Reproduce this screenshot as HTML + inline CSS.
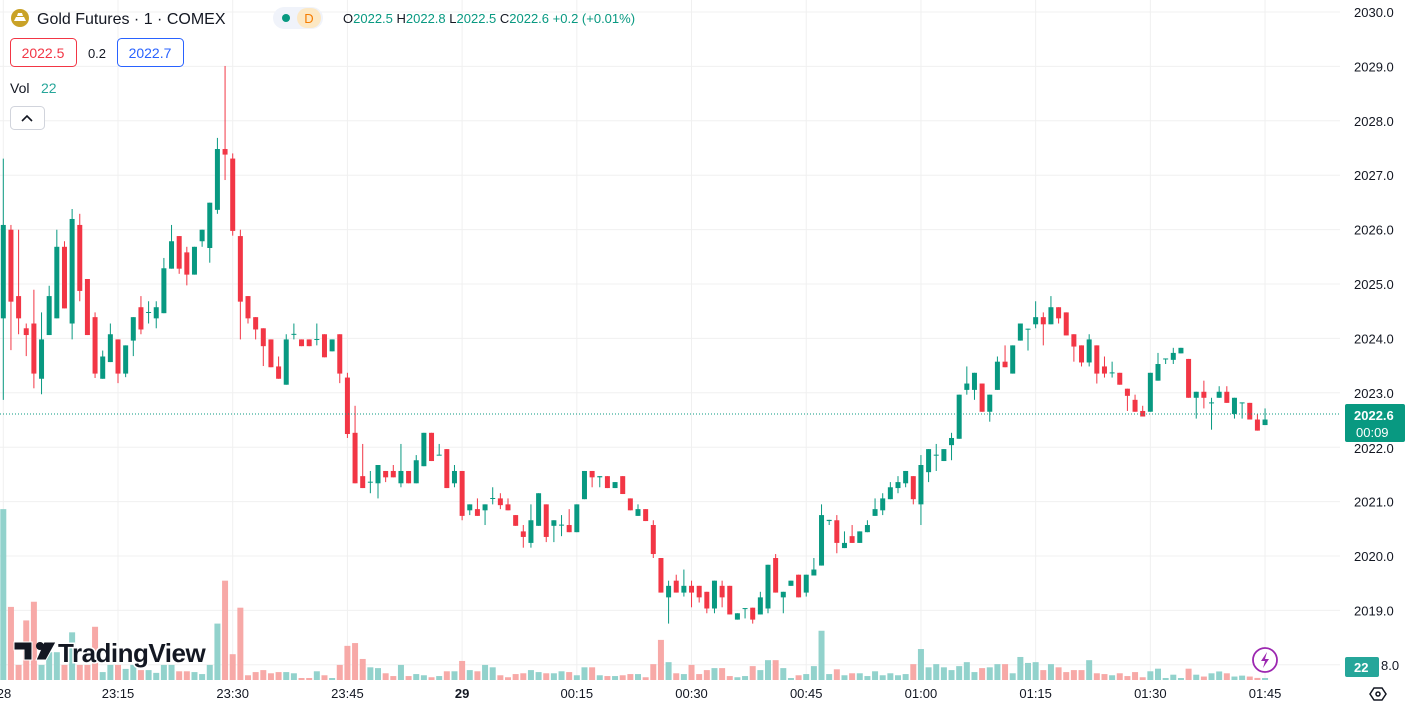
<!DOCTYPE html>
<html><head><meta charset="utf-8"><style>
body{margin:0;width:1408px;height:717px;overflow:hidden;background:#fff;font-family:"Liberation Sans",sans-serif;}
svg{position:absolute;left:0;top:0}
.t{font-family:"Liberation Sans",sans-serif}
</style></head><body>
<svg id="s" width="1408" height="717" xmlns="http://www.w3.org/2000/svg"></svg>
<script>
const S=document.getElementById('s');const NS='http://www.w3.org/2000/svg';
function el(n,a,t){const e=document.createElementNS(NS,n);for(const k in a)e.setAttribute(k,a[k]);if(t!==undefined)e.textContent=t;S.appendChild(e);return e;}
const G='#089981',R='#f23645',GV='#92d2cc',RV='#f7a9a7';
const DX=7.647;
// grid
for(let p=2018;p<=2030;p++){const y=12+(2030-p)*54.4;el('line',{x1:0,x2:1340,y1:y,y2:y,stroke:'#f0f0f0','stroke-width':1});}
const tx=[];for(let k=0;k<12;k++)tx.push(3.3+DX*15*k);
tx.forEach(x=>el('line',{x1:x,x2:x,y1:0,y2:680,stroke:'#f0f0f0','stroke-width':1}));
const A=[[415,650,248,855,1],[427,608,415,730,0],[594,650,427,690,0],[675,692,663,745,0],[663,789,578,826,0],[703,802,635,841,1],[594,692,568,692,1],[470,650,427,650,1],[470,625,456,625,0],[400,663,375,703,1],[415,581,387,607,0],[551,692,551,692,0],[647,789,635,800,0],[746,802,731,802,1],[690,760,663,760,1],[703,789,703,813,0],[718,789,718,798,1],[647,706,647,745,1],[622,678,594,690,0],[634,636,607,663,1],[622,650,607,675,1],[524,637,498,637,1],[456,525,415,525,1],[443,525,443,538,0],[484,540,470,567,0],[470,540,470,540,1],[427,456,427,470,1],[359,473,359,510,1],[224,377,196,387,1],[224,238,15,302,0],[248,430,235,442,0],
[443,608,427,703,0],[594,650,594,663,0],[647,678,647,703,0],[675,720,675,770,0],[703,773,703,773,0],[771,802,746,802,0],[703,817,690,817,1],[689,691,663,703,1],[703,720,703,720,0],[703,720,703,720,0],[702,704,663,718,1],[690,748,690,748,0],[703,733,703,733,1],[690,789,690,813,0],[799,941,787,951,0],[938,1065,870,1065,0],[1047,1077,966,1077,0],[1061,1063,1034,1090,1],[1019,1065,1019,1103,1],[1034,1050,1034,1062,0],[1034,1050,1019,1050,0],[1034,1065,966,1075,1],[1034,1065,1034,1065,0],[1007,1065,994,1065,1],[938,1022,938,1022,1],[938,1009,938,1009,0],[993,995,966,995,1],[979,1077,979,1077,0],[1034,1065,1019,1075,1],[1034,1147,1034,1158,0],
[1118,1133,1118,1145,1],[1130,1147,1103,1147,0],[1118,1133,1118,1170,1],[1102,1104,1075,1118,1],[1103,1120,1090,1130,0],[1118,1133,1103,1133,0],[1145,1172,1145,1172,0],[1186,1200,1170,1227,0],[1158,1215,1118,1227,1],[1090,1172,1090,1172,1],[1118,1200,1118,1213,0],[1158,1172,1158,1213,1],[1169,1171,1145,1198,1],[1170,1188,1130,1188,0],[1118,1188,1118,1188,1],[1034,1105,1034,1105,1],[1034,1050,1034,1075,0],[1047,1050,1047,1075,1],[1047,1077,1047,1077,0],[1062,1077,1062,1077,1],[1047,1092,1047,1092,0],[1103,1133,1103,1133,0],[1130,1147,1118,1147,1],[1130,1160,1130,1160,0],[1170,1243,1158,1253,0],[1253,1340,1253,1340,0],[1323,1352,1310,1418,1],[1310,1340,1295,1340,0],[1323,1340,1282,1350,1],[1323,1340,1310,1377,0],
[1323,1352,1323,1365,0],[1338,1380,1338,1392,0],[1310,1380,1310,1392,1],[1323,1352,1310,1377,0],[1323,1395,1323,1395,0],[1392,1408,1392,1408,1],[1379,1381,1379,1405,1],[1378,1408,1378,1418,0],[1352,1395,1338,1395,1],[1270,1380,1270,1392,1],[1253,1340,1243,1340,0],[1338,1352,1338,1392,1],[1310,1323,1310,1323,1],[1295,1352,1295,1352,0],[1295,1340,1295,1350,1],[1282,1297,1253,1297,1],[1145,1272,1118,1272,1],[1157,1160,1157,1170,1],[1158,1215,1145,1241,0],[1215,1228,1186,1228,1],[1198,1215,1170,1215,0],[1186,1215,1186,1215,1],[1170,1188,1158,1188,1],[1130,1147,1103,1147,1],[1103,1133,1090,1145,1],[1075,1105,1062,1105,1],[1062,1077,1047,1090,1],[1034,1065,1034,1075,1],[1047,1105,1047,1118,0],[1019,1118,994,1170,1],
[979,1037,979,1062,1],[993,995,966,1034,1],[979,1009,979,1009,1],[951,969,938,1007,1],[842,953,842,953,1],[814,830,771,842,1],[787,830,787,855,1],[814,885,814,885,0],[842,885,842,910,1],[759,830,746,830,1],[759,773,718,773,0],[718,789,718,789,1],[663,706,663,706,1],[676,678,676,731,1],[647,665,607,675,1],[647,665,635,718,0],[622,665,594,665,1],[622,650,622,663,0],[635,693,635,693,0],[690,721,690,759,0],[718,761,718,771,0],[703,761,690,771,1],[718,789,718,814,0],[771,789,746,799,0],[786,788,759,799,1],[787,817,787,817,0],[827,845,827,883,0],[855,885,842,885,0],[883,897,870,897,0],[787,885,787,885,1]];
const B=[[787,823,763,823,1],[775,777,775,787,1],[763,778,752,787,1],[752,764,752,764,1],[776,860,776,860,0],[847,860,847,905,1],[847,860,823,883,0],[870,872,860,929,1],[847,860,835,860,1],[847,871,835,871,0],[860,895,860,905,1],[870,872,870,905,1],[871,907,871,907,0],[907,931,895,931,0],[907,919,883,919,1]];
const cy=z=>60+z/2.516, cy6=z=>z/2.162;
const C=A.map(a=>[cy(a[0]),cy(a[1]),cy(a[2]),cy(a[3]),a[4]]).concat(B.map(a=>[cy6(a[0]),cy6(a[1]),cy6(a[2]),cy6(a[3]),a[4]]));
const V1=[1130,1376,1522,1410,1363,1522,1490,1490,1522,1440,1522,1522,1426,1540,1522,1522,1532,1522,1535,1535,1542,1522,1522,1538,1538,1540,1545,1522,1418,1310,1495,1378,1548,1540,1535,1543,1540,1540,1543,1555,1555,1538,1548,1555,1522,1474,1467,1507,1528,1530,1543,1550,1522,1550,1545,1548,1553,1550,1538,1538,1512,1535,1538,1522,1528,1548,1553,1545,1543,1535,1540,1543,1543,1538,1540,1548,1528,1528,1548,1550,1550,1548,1545,1545,1553,1520,1459,1515,1543,1545,1522,1545,1535,1530,1530,1550,1553,1550,1525,1535,1510,1510,1530,1555,1548,1545,1525,1436,1545,1533,1548,1543,1543,1550,1538,1548,1543,1548,1545,1520,1482,1528,1520,1528,1535,1525,1515,1540,1530,1528,1520,1520,1543,1502,1517,1515,1535,1520,1528,1540,1535,1535,1510,1543,1545,1548,1543,1550,1540,1553,1538];
const V2=[1450,1472,1463,1473,1450,1463,1467,1460,1456,1460,1467,1465,1467,1470,1473];
const V=V1.map(cy).concat(V2.map(z=>cy6(z)-2));
C.forEach((c,i)=>{const x=3.3+DX*i;const vy=Math.min(V[i],678);el('rect',{x:x-3,y:vy,width:6,height:680-vy,fill:c[4]?GV:RV});});
el('text',{x:58,y:662,'font-size':26,'font-weight':'bold',fill:'#131722',class:'t',stroke:'#fff','stroke-width':3,'paint-order':'stroke','letter-spacing':'-0.5'},'TradingView');
el('path',{d:'M14 642h18v18h-8v-10h-10z M44 642h12l-10 18h-10z',fill:'#131722',stroke:'#fff','stroke-width':1});
el('circle',{cx:40,cy:646,r:4,fill:'#131722'});
C.forEach((c,i)=>{const x=3.3+DX*i;const col=c[4]?G:R;
el('line',{x1:x,x2:x,y1:c[2],y2:c[3],stroke:col,'stroke-width':1});
el('rect',{x:x-2.5,y:c[0],width:5,height:Math.max(1,c[1]-c[0]),fill:col});});
el('line',{x1:0,x2:1340,y1:414,y2:414,stroke:G,'stroke-width':1,'stroke-dasharray':'1 2'});
for(let p=2019;p<=2030;p++){const y=12+(2030-p)*54.4;if(p===2022)continue;el('text',{x:1354,y:y+5,'font-size':13,fill:'#131722',class:'t'},p+'.0');}
el('text',{x:1381,y:670,'font-size':13,fill:'#131722',class:'t'},'8.0');
el('text',{x:1354,y:453,'font-size':13,fill:'#131722',class:'t'},'2022.0');
el('rect',{x:1345,y:404,width:60,height:38,rx:2,fill:G});
el('text',{x:1354,y:420,'font-size':13,'font-weight':'bold',fill:'#fff',class:'t'},'2022.6');
el('text',{x:1356,y:437,'font-size':13,fill:'#fff',class:'t'},'00:09');
el('rect',{x:1345,y:657,width:34,height:20,rx:2,fill:'#26a69a'});
el('text',{x:1354,y:672,'font-size':13,'font-weight':'bold',fill:'#fff',class:'t'},'22');
const tl=['28','23:15','23:30','23:45','29','00:15','00:30','00:45','01:00','01:15','01:30','01:45'];
tl.forEach((t,i)=>el('text',{x:i==0?4:tx[i],y:698,'font-size':13,'text-anchor':'middle','font-weight':t==='29'?'bold':'normal',fill:'#131722',class:'t'},t));
el('path',{d:'M1370 694l4-6h8l4 6l-4 6h-8z',fill:'none',stroke:'#131722','stroke-width':1.5});
el('circle',{cx:1378,cy:694,r:2,fill:'none',stroke:'#131722','stroke-width':1.5});
el('circle',{cx:1265,cy:660,r:12,fill:'#fff',stroke:'#9c27b0','stroke-width':1.8});
el('path',{d:'M1267 652l-6 9h4l-2 7l6-9h-4z',fill:'#9c27b0'});
el('circle',{cx:20,cy:18,r:9,fill:'#c9a227'});
el('path',{d:'M14 21h12l-2-4h-8z M17 16h6l-1-3h-4z',fill:'#fff'});
el('text',{x:37,y:24,'font-size':16,fill:'#131722',class:'t'},'Gold Futures · 1 · COMEX');
el('rect',{x:273,y:7,width:50,height:22,rx:11,fill:'#f0f3fa'});
el('circle',{cx:286,cy:18,r:4,fill:G});
el('rect',{x:297,y:8,width:24,height:20,rx:10,fill:'#fce8c4'});
el('text',{x:309,y:23,'font-size':13,'text-anchor':'middle',fill:'#f57c00',class:'t'},'D');
const hd=el('text',{x:343,y:23,'font-size':13,class:'t',fill:'#131722'});
[['O',0],['2022.5',1],[' H',0],['2022.8',1],[' L',0],['2022.5',1],[' C',0],['2022.6',1],[' +0.2 (+0.01%)',1]].forEach(([t,c])=>{const s=document.createElementNS(NS,'tspan');s.setAttribute('fill',c?G:'#131722');s.textContent=t;hd.appendChild(s);});
el('rect',{x:10.5,y:38.5,width:66,height:28,rx:4,fill:'#fff',stroke:R});
el('text',{x:43,y:58,'font-size':14,'text-anchor':'middle',fill:R,class:'t'},'2022.5');
el('text',{x:97,y:58,'font-size':13,'text-anchor':'middle',fill:'#131722',class:'t'},'0.2');
el('rect',{x:117.5,y:38.5,width:66,height:28,rx:4,fill:'#fff',stroke:'#2962ff'});
el('text',{x:150,y:58,'font-size':14,'text-anchor':'middle',fill:'#2962ff',class:'t'},'2022.7');
el('text',{x:10,y:93,'font-size':14,fill:'#131722',class:'t'},'Vol');
el('text',{x:41,y:93,'font-size':14,fill:'#26a69a',class:'t'},'22');
el('rect',{x:10.5,y:106.5,width:34,height:23,rx:4,fill:'#fff',stroke:'#d1d4dc'});
el('path',{d:'M22 121l5-5l5 5',fill:'none',stroke:'#131722','stroke-width':1.6});
</script>
</body></html>
